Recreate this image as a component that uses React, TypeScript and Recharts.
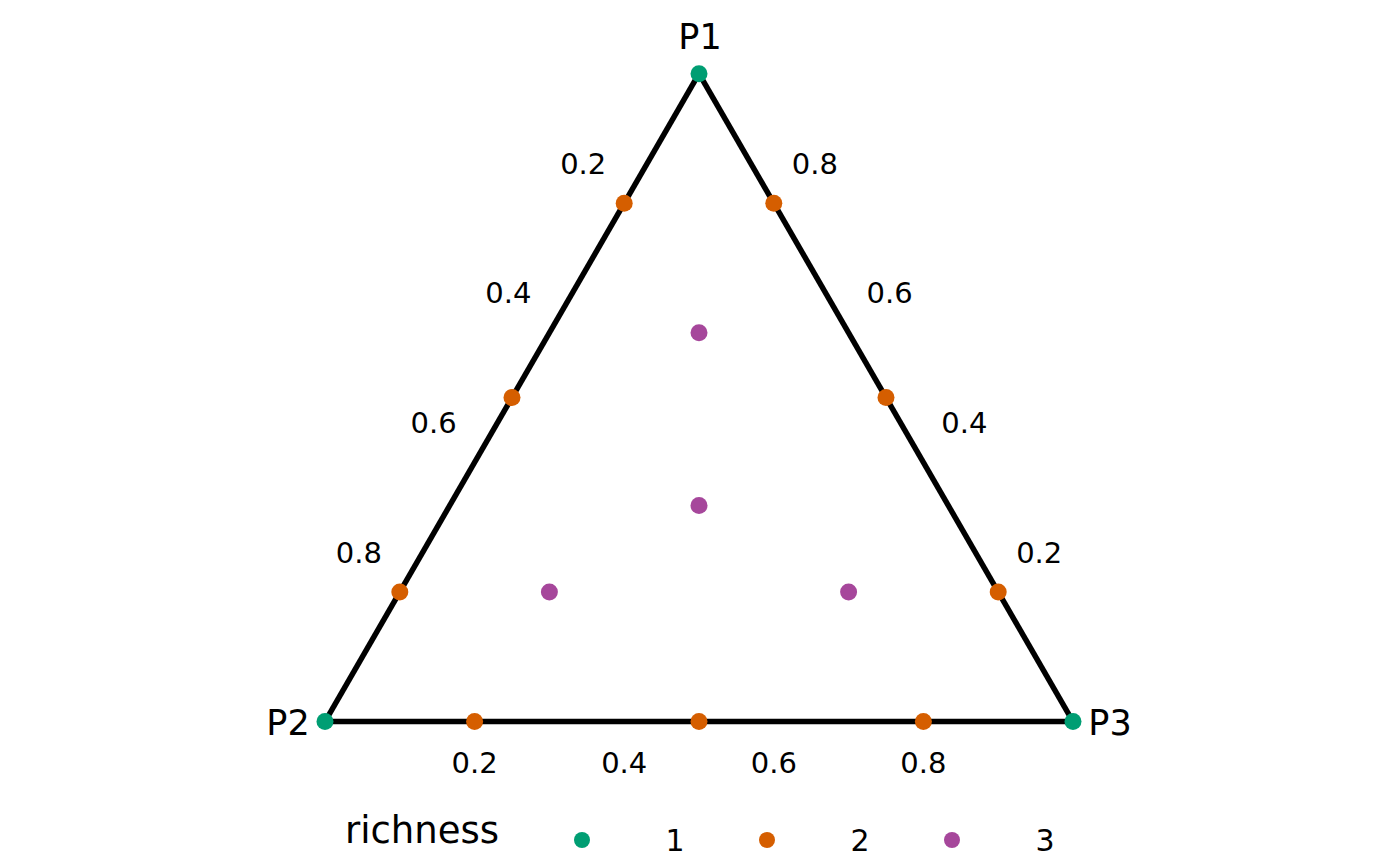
import React from 'react';
import { ScatterChart, Scatter, XAxis, YAxis, ReferenceLine, Customized } from 'recharts';

// compositions [P1, P2, P3]
const richness1: number[][] = [
  [1, 0, 0],
  [0, 1, 0],
  [0, 0, 1],
];
const richness2: number[][] = [
  [0.8, 0.2, 0], [0.5, 0.5, 0], [0.2, 0.8, 0],
  [0.8, 0, 0.2], [0.5, 0, 0.5], [0.2, 0, 0.8],
  [0, 0.8, 0.2], [0, 0.5, 0.5], [0, 0.2, 0.8],
];
const richness3: number[][] = [
  [0.6, 0.2, 0.2],
  [1 / 3, 1 / 3, 1 / 3],
  [0.2, 0.6, 0.2],
  [0.2, 0.2, 0.6],
];
const tickValues = [0.2, 0.4, 0.6, 0.8];
const vertexNames = ['P1', 'P2', 'P3'];
const legendTitle = 'richness';
const legendLabels = ['1', '2', '3'];
const colors = ['#009E73', '#D55E00', '#A6479B'];

const S3 = Math.sqrt(3) / 2;
const toXY = (c: number[]) => ({ x: c[2] + c[0] / 2, y: c[0] * S3 });

const W = 1400;
const H = 866;
const SCALE = 748;
const X0 = 325;
const Y0 = 721.5;
const xDomain: [number, number] = [-X0 / SCALE, (W - X0) / SCALE];
const yDomain: [number, number] = [-(H - Y0) / SCALE, Y0 / SCALE];

const series = [richness1, richness2, richness3].map((arr) => arr.map(toXY));

// tick labels: left axis = P2 share, right axis = P1 share, bottom axis = P3 share
const leftTicks = tickValues.map((v) => ({ ...toXY([1 - v, v, 0]), label: String(v), dx: -41, dy: -40 }));
const rightTicks = tickValues.map((v) => ({ ...toXY([v, 0, 1 - v]), label: String(v), dx: 41, dy: -40 }));
const bottomTicks = tickValues.map((v) => ({ ...toXY([0, 1 - v, v]), label: String(v), dx: 0, dy: 41 }));
const tickData = [...leftTicks, ...rightTicks, ...bottomTicks];

const vertexOffsets = [
  { dx: 1, dy: -25 },
  { dx: -37, dy: 13 },
  { dx: 37, dy: 13 },
];
const vertexData = richness1.map((c, i) => ({ ...toXY(c), label: vertexNames[i], ...vertexOffsets[i] }));

const FONT = '"DejaVu Sans", sans-serif';

const dot = (color: string) => (props: any) => (
  <circle cx={props.cx} cy={props.cy} r={8.5} fill={color} />
);

const tickShape = (props: any) => {
  const p = props.payload || props;
  const fs = 29;
  return (
    <text
      x={props.cx + p.dx}
      y={props.cy + p.dy + fs * 0.365}
      textAnchor="middle"
      fontSize={fs}
      fontFamily={FONT}
      fill="#000"
    >
      {p.label}
    </text>
  );
};

const vertexShape = (props: any) => {
  const p = props.payload || props;
  return (
    <text
      x={props.cx + p.dx}
      y={props.cy + p.dy}
      textAnchor="middle"
      fontSize={35}
      fontFamily={FONT}
      fill="#000"
    >
      {p.label}
    </text>
  );
};

const LegendLayer = () => {
  const dotX = [582, 767, 952];
  return (
    <g>
      <text x={422} y={843} textAnchor="middle" fontSize={37} fontFamily={FONT} fill="#000">
        {legendTitle}
      </text>
      {legendLabels.map((l, i) => (
        <g key={l}>
          <circle cx={dotX[i]} cy={840} r={8} fill={colors[i]} />
          <text x={dotX[i] + 93} y={851} textAnchor="middle" fontSize={30} fontFamily={FONT} fill="#000">
            {l}
          </text>
        </g>
      ))}
    </g>
  );
};

export default function App() {
  return (
    <div style={{ position: 'absolute', left: 0, top: 0, width: W, height: H, background: '#fff' }}>
      <ScatterChart width={W} height={H} margin={{ top: 0, right: 0, bottom: 0, left: 0 }}>
        <XAxis type="number" dataKey="x" domain={xDomain} allowDataOverflow hide />
        <YAxis type="number" dataKey="y" domain={yDomain} allowDataOverflow hide />
        <ReferenceLine segment={[{ x: 0, y: 0 }, { x: 1, y: 0 }]} stroke="#000" strokeWidth={5.5} />
        <ReferenceLine segment={[{ x: 0, y: 0 }, { x: 0.5, y: S3 }]} stroke="#000" strokeWidth={5.5} />
        <ReferenceLine segment={[{ x: 1, y: 0 }, { x: 0.5, y: S3 }]} stroke="#000" strokeWidth={5.5} />
        <Scatter data={tickData} shape={tickShape} isAnimationActive={false} />
        <Scatter data={vertexData} shape={vertexShape} isAnimationActive={false} />
        {series.map((d, i) => (
          <Scatter key={i} data={d} shape={dot(colors[i])} isAnimationActive={false} />
        ))}
        <Customized component={<LegendLayer />} />
      </ScatterChart>
    </div>
  );
}
